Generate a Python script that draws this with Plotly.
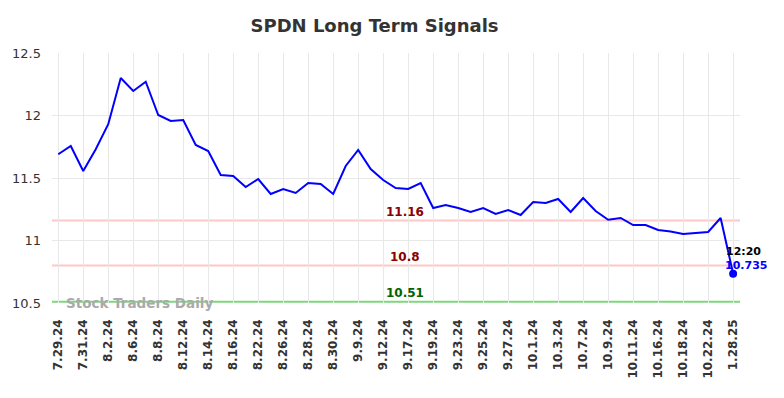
import plotly.graph_objects as go

dates = ["7.29.24","7.30.24","7.31.24","8.1.24","8.2.24","8.5.24","8.6.24","8.7.24","8.8.24","8.9.24",
         "8.12.24","8.13.24","8.14.24","8.15.24","8.16.24","8.21.24","8.22.24","8.23.24","8.26.24","8.27.24",
         "8.28.24","8.29.24","8.30.24","9.3.24","9.9.24","9.11.24","9.12.24","9.13.24","9.17.24","9.18.24",
         "9.19.24","9.20.24","9.23.24","9.24.24","9.25.24","9.26.24","9.27.24","9.30.24","10.1.24","10.2.24",
         "10.3.24","10.4.24","10.7.24","10.8.24","10.9.24","10.10.24","10.11.24","10.15.24","10.16.24","10.17.24",
         "10.18.24","10.21.24","10.22.24","10.23.24","1.28.25"]
values = [11.69,11.756,11.556,11.73,11.93,12.30,12.196,12.27,12.004,11.956,
          11.964,11.764,11.716,11.524,11.516,11.428,11.492,11.372,11.412,11.38,
          11.46,11.452,11.372,11.596,11.724,11.572,11.484,11.42,11.412,11.46,
          11.26,11.284,11.26,11.228,11.26,11.212,11.244,11.204,11.308,11.30,
          11.332,11.228,11.34,11.236,11.166,11.18,11.124,11.124,11.084,11.072,
          11.052,11.06,11.068,11.18,10.735]
tick_labels = dates[::2]
levels = [11.16, 10.8, 10.51]
level_colors = ["#ffc8c8", "#ffc8c8", "#7ed67e"]
level_text_colors = ["#8b0000", "#8b0000", "#006400"]
last_time = "12:20"

fig = go.Figure()
fig.add_trace(go.Scatter(x=dates, y=values, mode="lines",
                         line=dict(color="#0000ff", width=2), hoverinfo="skip", cliponaxis=False))
fig.add_trace(go.Scatter(x=[dates[-1]], y=[values[-1]], mode="markers",
                         marker=dict(color="#0000ff", size=8), hoverinfo="skip", cliponaxis=False))

for lv, lc, tc in zip(levels, level_colors, level_text_colors):
    fig.add_shape(type="line", xref="paper", x0=0, x1=1, yref="y", y0=lv, y1=lv,
                  line=dict(color=lc, width=2), layer="below")
    fig.add_annotation(xref="paper", x=0.513, y=lv, yref="y", text=f"<b>{lv:g}</b>",
                       showarrow=False, yanchor="bottom", yshift=0,
                       font=dict(family="DejaVu Sans", size=12, color=tc))

fig.add_annotation(xref="paper", yref="paper", x=0.1265, y=0.0, yanchor="middle", xanchor="center",
                   text="<b>Stock Traders Daily</b>", showarrow=False,
                   font=dict(family="DejaVu Sans", size=13.5, color="#aaaaaa"))

fig.add_annotation(x=dates[-1], y=values[-1], text=f"<b>{last_time}</b>", showarrow=False,
                   xshift=10, yshift=22, font=dict(family="DejaVu Sans", size=11, color="#000000"))
fig.add_annotation(x=dates[-1], y=values[-1], text=f"<b>{values[-1]}</b>", showarrow=False,
                   xshift=13, yshift=8, font=dict(family="DejaVu Sans", size=11, color="#0000ff"))

fig.update_layout(
    width=784, height=398,
    margin=dict(l=44, r=52, t=45, b=103, autoexpand=False),
    paper_bgcolor="white", plot_bgcolor="white",
    showlegend=False,
    title=dict(text="<b>SPDN Long Term Signals</b>", x=0.4675, xanchor="center", y=0.955, yanchor="middle",
               font=dict(family="DejaVu Sans", size=18, color="#333333")),
    xaxis=dict(type="category", range=[-0.5, 54.55], tickmode="array", tickvals=tick_labels,
               ticktext=[f"<b>{t}</b>" for t in tick_labels], tickangle=-90, automargin=False,
               ticklabelstandoff=13,
               showgrid=True, gridcolor="#e8e8e8", gridwidth=1, zeroline=False,
               tickfont=dict(family="DejaVu Sans", size=12, color="#333333"), ticks="", showline=False),
    yaxis=dict(range=[10.5, 12.5], tickvals=[10.5, 11, 11.5, 12, 12.5], ticktext=["10.5","11","11.5","12","12.5"],
               ticklabelstandoff=10,
               showgrid=True, gridcolor="#e8e8e8", gridwidth=1, zeroline=False, automargin=False,
               tickfont=dict(family="DejaVu Sans", size=13, color="#333333"), ticks="", showline=False),
)

fig.write_html("out.html")
